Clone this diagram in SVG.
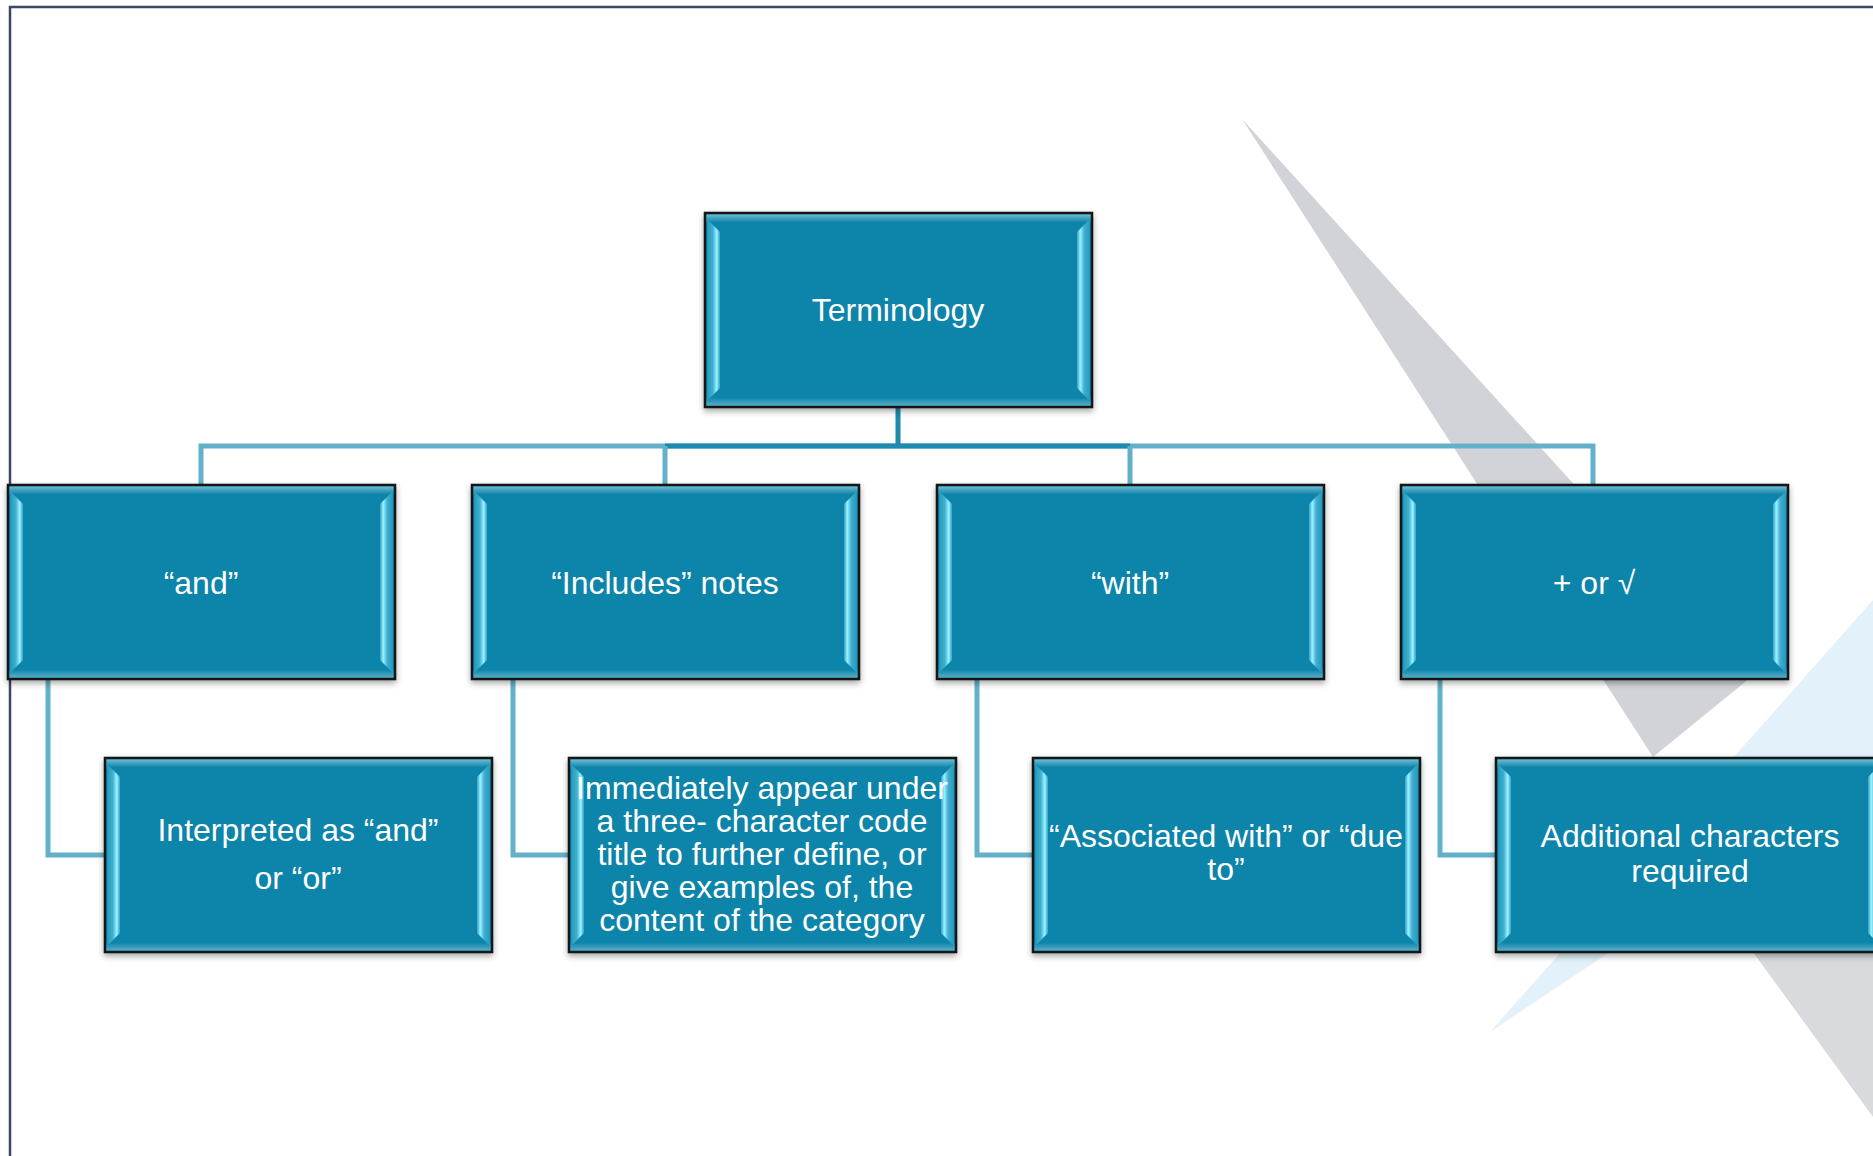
<svg xmlns="http://www.w3.org/2000/svg" xmlns:xlink="http://www.w3.org/1999/xlink" width="1873" height="1156" viewBox="0 0 1873 1156">
<style>
.t{font-family:"Liberation Sans",Arial,sans-serif;font-size:32px;fill:#ffffff;text-anchor:middle}
.cl{fill:none;stroke:#62b1c9;stroke-width:5}
.cd{fill:none;stroke:#1d8ab0;stroke-width:5}
</style>
<defs>
<linearGradient id="gTop" x1="0" y1="0" x2="0" y2="1"><stop offset="0" stop-color="#6fbad1"/><stop offset="1" stop-color="#0c84a9"/></linearGradient>
<linearGradient id="gBot" x1="0" y1="0" x2="0" y2="1"><stop offset="0" stop-color="#0c84a9"/><stop offset="1" stop-color="#5aadc7"/></linearGradient>
<linearGradient id="gL" x1="0" y1="0" x2="1" y2="0"><stop offset="0" stop-color="#2497bb"/><stop offset="0.45" stop-color="#3eb0d2"/><stop offset="0.75" stop-color="#a0f2ff"/><stop offset="1" stop-color="#2aa2c6"/></linearGradient>
<linearGradient id="gR" x1="1" y1="0" x2="0" y2="0"><stop offset="0" stop-color="#2497bb"/><stop offset="0.45" stop-color="#3eb0d2"/><stop offset="0.75" stop-color="#a0f2ff"/><stop offset="1" stop-color="#2aa2c6"/></linearGradient>
<filter id="sh" x="-5%" y="-5%" width="110%" height="115%"><feDropShadow dx="0" dy="3" stdDeviation="3" flood-color="#000" flood-opacity="0.35"/></filter>
<g id="box">
<rect x="0" y="0" width="387" height="194" fill="#0c84a9" stroke="#151515" stroke-width="2.5" filter="url(#sh)"/>
<rect x="1.5" y="1.5" width="384" height="8" fill="url(#gTop)"/>
<rect x="1.5" y="184.5" width="384" height="8" fill="url(#gBot)"/>
<polygon points="2,6 15,19 15,175 2,188" fill="url(#gL)"/>
<polygon points="385,6 372,19 372,175 385,188" fill="url(#gR)"/>
</g>
</defs>
<rect width="1873" height="1156" fill="#ffffff"/>
<g id="background">
<path d="M10,1156 V7 H1873" fill="none" stroke="#3b4662" stroke-width="2.5"/>
<polygon points="1490,1032 1873,600 1873,777" fill="#e2f1fa"/>
<polygon points="1242,119 1750,678 1653,757" fill="#d2d3d8"/>
<polygon points="1653,757 1873,757 1873,1117 1753,952" fill="#d9dade"/>
</g>
<g id="connectors">
<path class="cl" d="M898,446 H201 V486"/>
<path class="cl" d="M898,446 H1593 V486"/>
<path class="cd" d="M898,407 V446 M665,446 H1130"/>
<path class="cl" d="M665,446 V486"/>
<path class="cl" d="M1130,446 V486"/>
<path class="cl" d="M48,679 V855 H105"/>
<path class="cl" d="M513,679 V855 H570"/>
<path class="cl" d="M977,679 V855 H1034"/>
<path class="cl" d="M1440,679 V855 H1497"/>
</g>
<g id="n-terminology"><use href="#box" x="705" y="213"/><text class="t" x="898" y="321">Terminology</text></g>
<g id="n-and"><use href="#box" x="8" y="485"/><text class="t" x="201" y="594">“and”</text></g>
<g id="n-includes"><use href="#box" x="472" y="485"/><text class="t" x="665" y="594">“Includes” notes</text></g>
<g id="n-with"><use href="#box" x="937" y="485"/><text class="t" x="1130" y="594">“with”</text></g>
<g id="n-plus"><use href="#box" x="1401" y="485"/><text class="t" x="1594" y="594">+ or √</text></g>
<g id="n-interpreted"><use href="#box" x="105" y="758"/><text class="t" x="298" y="841">Interpreted as “and”</text><text class="t" x="298" y="889">or “or”</text></g>
<g id="n-immediately"><use href="#box" x="569" y="758"/>
<text class="t" x="762" y="799">Immediately appear under</text>
<text class="t" x="762" y="832">a three- character code</text>
<text class="t" x="762" y="865">title to further define, or</text>
<text class="t" x="762" y="898">give examples of, the</text>
<text class="t" x="762" y="931">content of the category</text></g>
<g id="n-associated"><use href="#box" x="1033" y="758"/><text class="t" x="1226" y="847">“Associated with” or “due</text><text class="t" x="1226" y="880">to”</text></g>
<g id="n-additional"><use href="#box" x="1496" y="758"/><text class="t" x="1690" y="847">Additional characters</text><text class="t" x="1690" y="882">required</text></g>
</svg>
